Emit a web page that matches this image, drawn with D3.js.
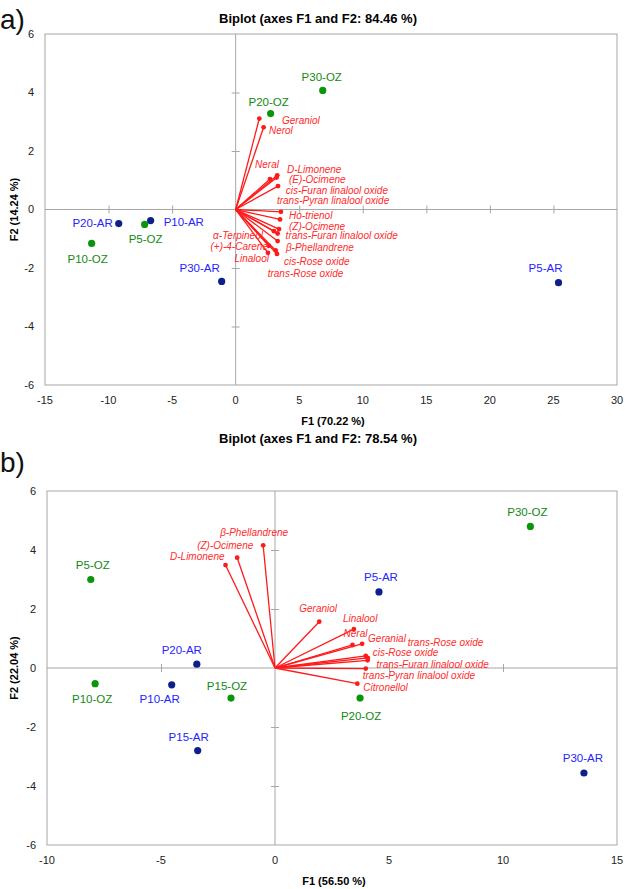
<!DOCTYPE html>
<html><head><meta charset="utf-8">
<script src="https://cdn.jsdelivr.net/npm/d3@7"></script>
<style>
body{margin:0;background:#fff}
svg{display:block}
text{font-family:"Liberation Sans",Arial,sans-serif}
</style>
</head><body>
<svg id="chart" width="625" height="889"></svg>
<script>
// ---------- Panel a data ----------
const aTitle = "Biplot (axes F1 and F2: 84.46 %)";
const aXTitle = "F1 (70.22 %)";
const aYTitle = "F2 (14.24 %)";
const aXTicks = [-15, -10, -5, 0, 5, 10, 15, 20, 25, 30];
const aYTicks = [-6, -4, -2, 0, 2, 4, 6];
const aObs   = ["P30-OZ", "P20-OZ", "P20-AR", "P5-OZ", "P10-AR", "P10-OZ", "P30-AR", "P5-AR"];
const aObsF1 = [6.85, 2.75, -9.2, -7.16, -6.69, -11.33, -1.1, 25.4];
const aObsF2 = [4.07, 3.28, -0.48, -0.51, -0.38, -1.16, -2.46, -2.5];
const aVars  = ["Geraniol", "Nerol", "Neral", "D-Limonene", "(E)-Ocimene", "cis-Furan linalool oxide",
                "trans-Pyran linalool oxide", "Ho-trienol", "(Z)-Ocimene", "trans-Furan linalool oxide",
                "β-Phellandrene", "cis-Rose oxide", "trans-Rose oxide", "α-Terpineol", "(+)-4-Carene", "Linalool"];
const aVarF1 = [1.86, 2.2, 2.7, 3.27, 3.22, 3.33, 3.56, 3.49, 3.41, 3.3, 3.3, 3.25, 3.15, 3.01, 2.6, 2.54];
const aVarF2 = [3.11, 2.81, 1.04, 1.17, 1.09, 0.8, -0.08, -0.34, -0.67, -0.82, -1.08, -1.52, -1.4, -0.74, -1.24, -1.48];

// ---------- Panel b data ----------
const bTitle = "Biplot (axes F1 and F2: 78.54 %)";
const bXTitle = "F1 (56.50 %)";
const bYTitle = "F2 (22.04 %)";
const bXTicks = [-10, -5, 0, 5, 10, 15];
const bYTicks = [-6, -4, -2, 0, 2, 4, 6];
const bObs   = ["P5-OZ", "P20-AR", "P10-OZ", "P10-AR", "P15-OZ", "P15-AR", "P5-AR", "P20-OZ", "P30-OZ", "P30-AR"];
const bObsF1 = [-8.08, -3.43, -7.89, -4.53, -1.93, -3.39, 4.56, 3.73, 11.2, 13.55];
const bObsF2 = [3.0, 0.13, -0.53, -0.57, -1.02, -2.8, 2.58, -1.02, 4.8, -3.56];
const bVars  = ["β-Phellandrene", "(Z)-Ocimene", "D-Limonene", "Geraniol", "Linalool", "Neral", "Geranial",
                "trans-Rose oxide", "cis-Rose oxide", "trans-Furan linalool oxide", "trans-Pyran linalool oxide", "Citronellol"];
const bVarF1 = [-0.52, -1.66, -2.17, 1.94, 3.46, 3.4, 3.82, 3.98, 4.07, 4.06, 3.98, 3.61];
const bVarF2 = [4.16, 3.74, 3.49, 1.57, 1.32, 0.78, 0.82, 0.41, 0.34, 0.26, -0.02, -0.53];

// ---------- Layout (label offsets in px: dx, dy, anchor) ----------
const aObsLab = [[-1,-13,"middle"],[-2,-12,"middle"],[-6,-1,"end"],[1,15,"middle"],[13,1,"start"],[-4,16,"middle"],[-22,-13,"middle"],[-13,-15,"middle"]];
const aVarLab = [[22.7,1.7,"start"],[5.3,3,"start"],[9,-15,"end"],[9.7,-6,"start"],[12.3,1.4,"start"],[7.7,4,"start"],
                 [-4,-11.7,"start"],[9,-4.3,"start"],[10,-3,"start"],[8,2,"start"],[8.3,6.3,"start"],[7,7.3,"start"],
                 [-8,23,"start"],[-11,4,"end"],[-0.7,0.3,"end"],[1,5.3,"end"]];
const bObsLab = [[2,-15,"middle"],[-15,-14,"middle"],[-3,15,"middle"],[-12,14,"middle"],[-4,-12,"middle"],[-9,-14,"middle"],
                 [2,-15,"middle"],[1,18,"middle"],[-3,-14,"middle"],[-1,-15,"middle"]];
const bVarLab = [[-43,-13,"start"],[-40,-12,"start"],[-1,-9,"end"],[-20,-13,"start"],[-11,-11,"start"],[-9,-11,"start"],
                 [6,-5,"start"],[42,-13,"start"],[5,-5,"start"],[9,4,"start"],[-3,7,"start"],[6,4,"start"]];

const svg = d3.select("#chart");
const AXIS = "#a6a6a6";

function panel(cfg) {
  const x = d3.scaleLinear().domain(cfg.xDomain).range([cfg.left, cfg.right]);
  const y = d3.scaleLinear().domain([-6, 6]).range([cfg.bottom, cfg.top]);
  const g = svg.append("g");

  // plot border
  g.append("rect").attr("x", cfg.left).attr("y", cfg.top)
    .attr("width", cfg.right - cfg.left).attr("height", cfg.bottom - cfg.top)
    .attr("fill", "none").attr("stroke", AXIS).attr("stroke-width", 1);

  // zero axes using d3 axes (cross ticks)
  const xAxis = d3.axisBottom(x).tickValues(cfg.xTicks.filter(v => v !== 0 && v !== cfg.xDomain[0] && v !== cfg.xDomain[1]))
    .tickSize(4).tickSizeOuter(0).tickFormat("");
  const gx = g.append("g").attr("transform", `translate(0,${y(0)})`).call(xAxis);
  gx.selectAll(".tick line").attr("y1", -4).attr("y2", 4);
  const yAxis = d3.axisLeft(y).tickValues(cfg.yTicks.filter(v => v !== 0 && Math.abs(v) !== 6))
    .tickSize(4).tickSizeOuter(0).tickFormat("");
  const gy = g.append("g").attr("transform", `translate(${x(0)},0)`).call(yAxis);
  gy.selectAll(".tick line").attr("x1", -4).attr("x2", 4);
  [gx, gy].forEach(a => {
    a.select(".domain").attr("stroke", AXIS);
    a.selectAll(".tick line").attr("stroke", AXIS);
  });
  // extend zero lines to full plot width/height
  gx.select(".domain").attr("d", `M${cfg.left},0H${cfg.right}`);
  gy.select(".domain").attr("d", `M0,${cfg.top}V${cfg.bottom}`);

  // tick labels (positioned outside the plot box)
  g.selectAll(".xt").data(cfg.xTicks).enter().append("text")
    .attr("x", d => x(d)).attr("y", cfg.bottom + 15).attr("dy", "0.35em")
    .attr("text-anchor", "middle").attr("font-size", 11).attr("fill", "#222").text(d => d);
  g.selectAll(".yt").data(cfg.yTicks).enter().append("text")
    .attr("x", cfg.left - 11).attr("y", d => y(d)).attr("dy", "0.35em")
    .attr("text-anchor", "end").attr("font-size", 11).attr("fill", "#222").text(d => d);

  // titles
  g.append("text").attr("x", 318).attr("y", cfg.titleY).attr("dy", "0.35em").attr("text-anchor", "middle")
    .attr("font-size", 13).attr("font-weight", "bold").text(cfg.title);
  g.append("text").attr("x", (cfg.left + cfg.right) / 2 + 2).attr("y", cfg.bottom + 36).attr("dy", "0.35em")
    .attr("text-anchor", "middle").attr("font-size", 11).attr("font-weight", "bold").text(cfg.xTitle);
  g.append("text").attr("transform", `translate(14,${y(0)}) rotate(-90)`).attr("dy", "0.35em")
    .attr("text-anchor", "middle").attr("font-size", 11).attr("font-weight", "bold").text(cfg.yTitle);
  g.append("text").attr("x", 0).attr("y", cfg.letterY).attr("font-size", 28).attr("fill", "#111").text(cfg.letter);

  // vectors
  const vars = cfg.vars.map((n, i) => ({n, f1: cfg.vf1[i], f2: cfg.vf2[i], lab: cfg.vlab[i]}));
  g.selectAll(".vl").data(vars).enter().append("line")
    .attr("x1", x(0)).attr("y1", y(0)).attr("x2", d => x(d.f1)).attr("y2", d => y(d.f2))
    .attr("stroke", "#ff1a1a").attr("stroke-width", 1.3);
  g.selectAll(".vd").data(vars).enter().append("circle")
    .attr("cx", d => x(d.f1)).attr("cy", d => y(d.f2)).attr("r", 2.4).attr("fill", "#ff1a1a");
  g.selectAll(".vt").data(vars).enter().append("text")
    .attr("x", d => x(d.f1) + d.lab[0]).attr("y", d => y(d.f2) + d.lab[1]).attr("dy", "0.35em")
    .attr("text-anchor", d => d.lab[2]).attr("font-size", 10).attr("font-style", "italic")
    .attr("fill", "#ff2a2a").text(d => d.n);

  // observations
  const obs = cfg.obs.map((n, i) => ({n, f1: cfg.of1[i], f2: cfg.of2[i], lab: cfg.olab[i], oz: n.endsWith("OZ")}));
  g.selectAll(".od").data(obs).enter().append("circle")
    .attr("cx", d => x(d.f1)).attr("cy", d => y(d.f2)).attr("r", 3.6)
    .attr("fill", d => d.oz ? "#0a960a" : "#0d1f8c");
  g.selectAll(".ot").data(obs).enter().append("text")
    .attr("x", d => x(d.f1) + d.lab[0]).attr("y", d => y(d.f2) + d.lab[1]).attr("dy", "0.35em")
    .attr("text-anchor", d => d.lab[2]).attr("font-size", 11.5)
    .attr("fill", d => d.oz ? "#108a10" : "#2424ff").text(d => d.n);
}

panel({left: 45, right: 617, top: 34, bottom: 385, xDomain: [-15, 30], xTicks: aXTicks, yTicks: aYTicks,
  title: aTitle, xTitle: aXTitle, yTitle: aYTitle, titleY: 18, letter: "a)", letterY: 29,
  vars: aVars, vf1: aVarF1, vf2: aVarF2, vlab: aVarLab, obs: aObs, of1: aObsF1, of2: aObsF2, olab: aObsLab});
panel({left: 47, right: 617, top: 491, bottom: 845, xDomain: [-10, 15], xTicks: bXTicks, yTicks: bYTicks,
  title: bTitle, xTitle: bXTitle, yTitle: bYTitle, titleY: 438, letter: "b)", letterY: 472,
  vars: bVars, vf1: bVarF1, vf2: bVarF2, vlab: bVarLab, obs: bObs, of1: bObsF1, of2: bObsF2, olab: bObsLab});
</script>
</body></html>
